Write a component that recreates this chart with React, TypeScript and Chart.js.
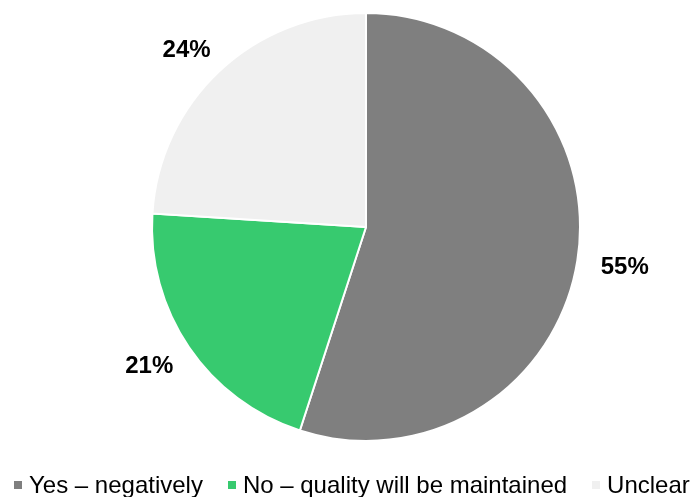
import React, { useEffect, useRef } from "react";
import { Chart, registerables } from "chart.js";

Chart.register(...registerables);

const categories = ["Yes – negatively", "No – quality will be maintained", "Unclear"];
const values = [55, 21, 24];
const colors = ["#7f7f7f", "#37ca6f", "#f0f0f0"];
const FONT = "'Liberation Sans', Arial, sans-serif";

const outsideLabels = {
  id: "outsideLabels",
  afterDatasetsDraw(chart: any) {
    const ctx = chart.ctx;
    const meta = chart.getDatasetMeta(0);
    const data = chart.data.datasets[0].data as number[];
    const total = data.reduce((a: number, b: number) => a + b, 0);
    ctx.save();
    ctx.font = `bold 24px ${FONT}`;
    ctx.fillStyle = "#000";
    ctx.textAlign = "center";
    ctx.textBaseline = "middle";
    meta.data.forEach((arc: any, i: number) => {
      const p = arc.getProps(["x", "y", "startAngle", "endAngle", "outerRadius"], true);
      const mid = (p.startAngle + p.endAngle) / 2;
      const dx = Math.cos(mid);
      const dy = Math.sin(mid);
      const text = Math.round((data[i] / total) * 100) + "%";
      const w = ctx.measureText(text).width;
      const pad = 22;
      const x = p.x + dx * (p.outerRadius + pad) + dx * (w / 2 + 2);
      const y = p.y + dy * (p.outerRadius + pad) + dy * 9;
      ctx.fillText(text, x, y + 2);
    });
    ctx.restore();
  },
};

export default function App() {
  const ref = useRef<HTMLCanvasElement | null>(null);
  useEffect(() => {
    if (!ref.current) return;
    const chart = new Chart(ref.current, {
      type: "pie",
      data: {
        labels: categories,
        datasets: [
          {
            data: values,
            backgroundColor: colors,
            borderColor: "#ffffff",
            borderWidth: 2,
            radius: 214,
          } as any,
        ],
      },
      options: {
        animation: false,
        responsive: true,
        maintainAspectRatio: false,
        layout: { padding: { top: 0, left: 39, right: 0, bottom: 43 } },
        plugins: {
          legend: { display: false },
          tooltip: { enabled: false },
        },
      },
      plugins: [outsideLabels],
    });
    return () => chart.destroy();
  }, []);

  const box = (c: string) => (
    <span style={{ display: "inline-block", width: 8, height: 8, background: c, marginRight: 7 }} />
  );

  return (
    <div style={{ position: "fixed", left: 0, top: 0, width: 693, height: 497, background: "#fff" }}>
      <canvas ref={ref} style={{ position: "absolute", left: 0, top: 0, width: 693, height: 497 }} />
      <div
        style={{
          position: "absolute",
          left: 14,
          top: 471,
          display: "flex",
          alignItems: "center",
          whiteSpace: "nowrap",
          fontFamily: FONT,
          fontSize: 24,
          lineHeight: "27px",
          color: "#000",
        }}
      >
        {categories.map((c, i) => (
          <span key={c} style={{ display: "flex", alignItems: "center", marginRight: i < categories.length - 1 ? 25 : 0 }}>
            {box(colors[i])}
            <span>{c}</span>
          </span>
        ))}
      </div>
    </div>
  );
}
